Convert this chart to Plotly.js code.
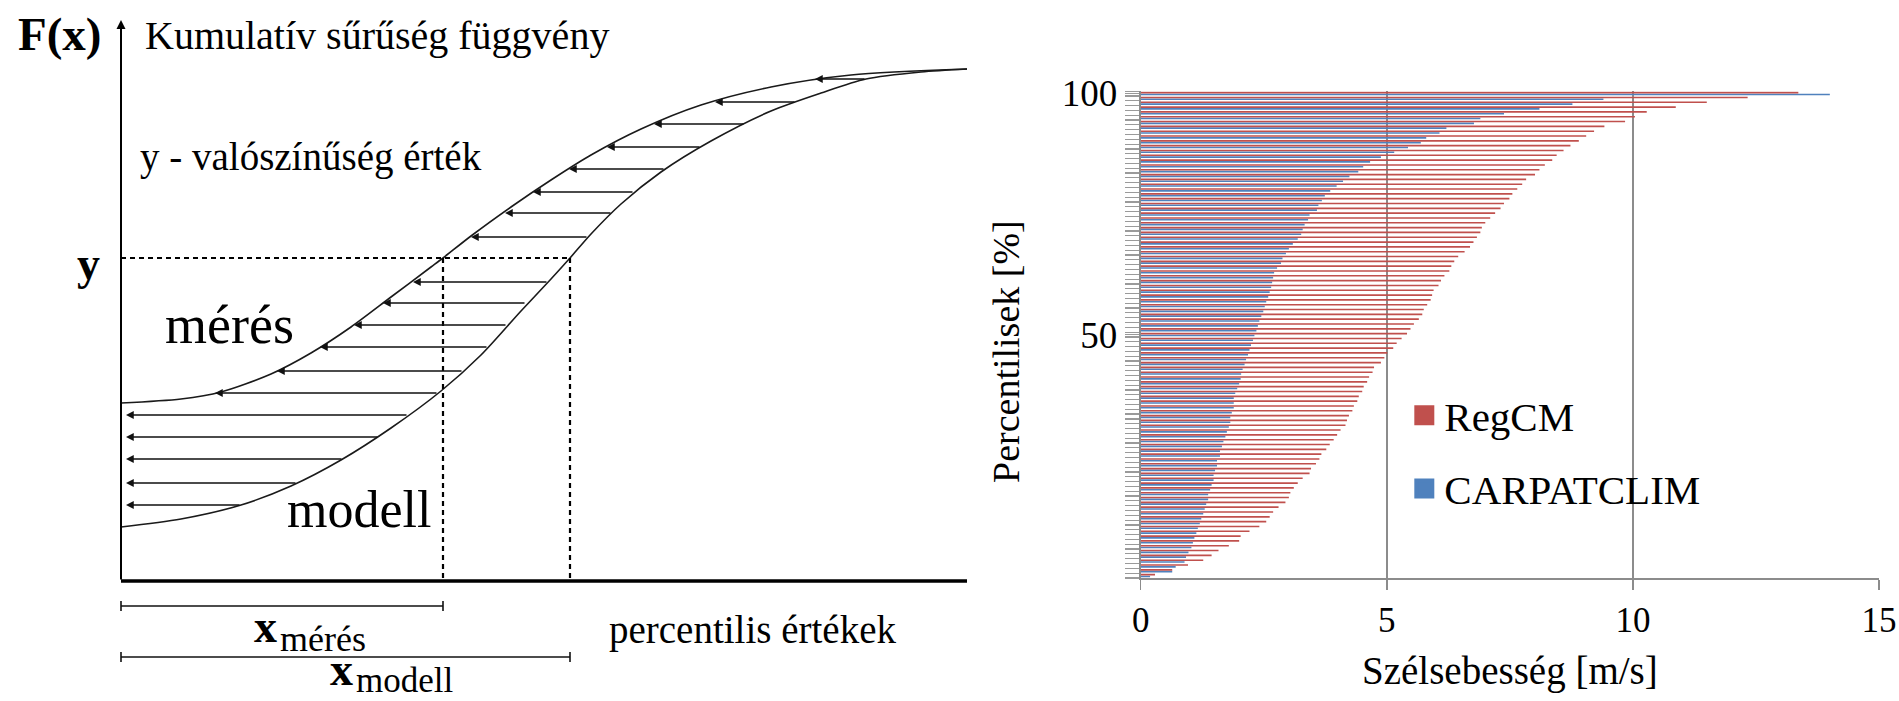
<!DOCTYPE html>
<html>
<head>
<meta charset="utf-8">
<script src="https://cdn.plot.ly/plotly-3.0.1.min.js"></script>
<style>
html,body{margin:0;padding:0;background:#ffffff;}
#chart{width:1899px;height:701px;}
</style>
</head>
<body>
<div id="chart"></div>
<script>
// ---------- Right panel: percentile bars ----------
const percentiles = [0,1,2,3,4,5,6,7,8,9,10,11,12,13,14,15,16,17,18,19,20,21,22,23,24,25,26,27,28,29,30,
  31,32,33,34,35,36,37,38,39,40,41,42,43,44,45,46,47,48,49,50,51,52,53,54,55,56,57,58,59,60,
  61,62,63,64,65,66,67,68,69,70,71,72,73,74,75,76,77,78,79,80,81,82,83,84,85,86,87,88,89,90,
  91,92,93,94,95,96,97,98,99,100];
const regcm = [0.29,0.64,0.96,1.27,1.44,1.58,1.79,2.00,2.03,2.21,2.41,2.55,2.62,2.69,2.80,2.94,3.01,3.04,3.11,3.19,
  3.29,3.43,3.46,3.56,3.63,3.67,3.77,3.84,3.92,3.99,4.06,4.16,4.19,4.23,4.30,4.33,4.40,4.43,4.50,4.53,
  4.60,4.64,4.71,4.74,4.88,4.95,5.01,5.13,5.20,5.30,5.41,5.48,5.55,5.65,5.72,5.75,5.82,5.89,5.92,5.95,
  6.05,6.10,6.17,6.27,6.31,6.37,6.45,6.58,6.69,6.76,6.83,6.90,6.93,7.00,7.10,7.20,7.31,7.38,7.49,7.55,
  7.65,7.75,7.83,8.01,8.10,8.21,8.36,8.45,8.59,8.73,8.90,9.05,9.21,9.42,9.84,10.04,10.28,10.87,11.50,12.33,13.36];
const carpatclim = [0.19,0.64,0.71,0.89,0.92,0.97,1.03,1.06,1.09,1.13,1.16,1.20,1.23,1.27,1.30,1.33,1.37,1.37,1.41,1.44,
  1.48,1.48,1.51,1.55,1.55,1.61,1.61,1.65,1.68,1.72,1.75,1.79,1.82,1.82,1.85,1.89,1.89,1.89,1.92,1.96,
  2.00,2.03,2.04,2.07,2.11,2.14,2.18,2.21,2.24,2.28,2.31,2.35,2.38,2.41,2.45,2.49,2.52,2.55,2.59,2.62,
  2.65,2.67,2.69,2.71,2.77,2.85,2.88,2.95,3.01,3.09,3.19,3.26,3.29,3.33,3.40,3.43,3.58,3.61,3.68,3.74,
  3.85,3.98,4.11,4.24,4.42,4.52,4.66,4.88,5.15,5.43,5.69,5.80,6.07,6.21,6.77,6.90,7.38,8.10,8.77,9.40,14.00];
const xTickVals = [0,5,10,15];
const yTickVals = [50,100];
const seriesNames = ['RegCM','CARPATCLIM'];

// ---------- Left panel: schematic CDF diagram (units: px from axis origin) ----------
const meresX  = [0,60,100,150,190,230,270,310,322,350,390,430,470,520,580,650,730,846];
const meresY  = [178,182,189,207,228,254,284,314,323,345,374,401,426,452,476,494,506,512];
const modellX = [0,60,120,170,220,270,320,360,400,430,449,470,500,540,590,650,700,745,800,846];
const modellY = [54,62,76,95,121,153,190,226,270,302,323,347,377,409,440,470,488,502,509,512];
const arrowY    = [502,479,457,434,412,389,368,344,299,278,256,234,210,188,166,144,122,98,76];
const arrowFrom = [745,675,624,580,544,513,491,467,427,405,386,367,342,317,287,258,222,176,120];
const arrowTo   = [694,594,533,486,448,412,384,350,292,262,233,199,156,94,5,5,5,5,5];
const yLevel = 323;            // chosen probability y
const xMeres = 322;            // percentile value of measurement
const xModell = 449;           // percentile value of model
const axisXEnd = 846;          // end of horizontal axis
const axisYEnd = 561;          // top of vertical axis (arrow tip)
const bracketMeresY = -25;
const bracketModellY = -76;
const bracketTick = 5;

const SERIF = 'Liberation Serif, Times New Roman, serif';
const RED = '#C0504D';
const BLUE = '#4F81BD';

const traces = [];
// curves
traces.push({type:'scatter', mode:'lines', x:meresX, y:meresY, xaxis:'x', yaxis:'y',
  line:{color:'#1a1a1a', width:1.6, shape:'spline', smoothing:0.8}, showlegend:false, hoverinfo:'skip'});
traces.push({type:'scatter', mode:'lines', x:modellX, y:modellY, xaxis:'x', yaxis:'y',
  line:{color:'#1a1a1a', width:1.6, shape:'spline', smoothing:0.8}, showlegend:false, hoverinfo:'skip'});
// horizontal axis
traces.push({type:'scatter', mode:'lines', x:[0, axisXEnd], y:[0, 0], xaxis:'x', yaxis:'y',
  line:{color:'#000', width:3.5}, showlegend:false, hoverinfo:'skip'});
// dashed guide lines
traces.push({type:'scatter', mode:'lines', x:[0, xModell], y:[yLevel, yLevel], xaxis:'x', yaxis:'y',
  line:{color:'#000', width:2.2, dash:'5px,4px'}, showlegend:false, hoverinfo:'skip'});
traces.push({type:'scatter', mode:'lines', x:[xMeres, xMeres], y:[yLevel, 0], xaxis:'x', yaxis:'y',
  line:{color:'#000', width:2.2, dash:'5px,4px'}, showlegend:false, hoverinfo:'skip'});
traces.push({type:'scatter', mode:'lines', x:[xModell, xModell], y:[yLevel, 0], xaxis:'x', yaxis:'y',
  line:{color:'#000', width:2.2, dash:'5px,4px'}, showlegend:false, hoverinfo:'skip'});
// brackets under the axis
[[xMeres, bracketMeresY],[xModell, bracketModellY]].forEach(function(b){
  traces.push({type:'scatter', mode:'lines',
    x:[0,0,null,0,b[0],null,b[0],b[0]],
    y:[b[1]-bracketTick,b[1]+bracketTick,null,b[1],b[1],null,b[1]-bracketTick,b[1]+bracketTick],
    xaxis:'x', yaxis:'y', line:{color:'#111', width:1.6}, showlegend:false, hoverinfo:'skip'});
});

// bars (blue first so red sits above in each group)
traces.push({type:'bar', orientation:'h', name:seriesNames[1], x:carpatclim, y:percentiles,
  xaxis:'x2', yaxis:'y2', marker:{color:BLUE}, showlegend:false, legendgroup:'carp'});
traces.push({type:'bar', orientation:'h', name:seriesNames[0], x:regcm, y:percentiles,
  xaxis:'x2', yaxis:'y2', marker:{color:RED}, showlegend:false, legendgroup:'reg'});
// legend entries
traces.push({type:'scatter', mode:'markers', name:seriesNames[0], x:[null], y:[null], xaxis:'x2', yaxis:'y2',
  marker:{symbol:'square', size:16, color:RED, line:{width:4, color:RED}}, legendgroup:'reg', hoverinfo:'skip'});
traces.push({type:'scatter', mode:'markers', name:seriesNames[1], x:[null], y:[null], xaxis:'x2', yaxis:'y2',
  marker:{symbol:'square', size:16, color:BLUE, line:{width:4, color:BLUE}}, legendgroup:'carp', hoverinfo:'skip'});

const annotations = [];
// vertical axis with arrow
annotations.push({x:0, y:axisYEnd, ax:0, ay:0, xref:'x', yref:'y', axref:'x', ayref:'y',
  text:'', showarrow:true, arrowhead:2, arrowsize:0.9, arrowwidth:2, arrowcolor:'#000', standoff:0, startstandoff:0});
// transformation arrows
for (let i = 0; i < arrowY.length; i++) {
  annotations.push({x:arrowTo[i], y:arrowY[i], ax:arrowFrom[i], ay:arrowY[i], xref:'x', yref:'y', axref:'x', ayref:'y',
    text:'', showarrow:true, arrowhead:2, arrowsize:1.15, arrowwidth:1.35, arrowcolor:'#111', standoff:0, startstandoff:0});
}
function label(text, x, y, size, opts) {
  const a = Object.assign({x:x, y:y, xref:'x', yref:'y', text:text, showarrow:false,
    xanchor:'left', yanchor:'middle', font:{family:SERIF, size:size, color:'#000'}}, opts || {});
  annotations.push(a);
}
label('F(x)', -105, 547, 47, {font:{family:SERIF, size:47, color:'#000', weight:'bold'}});
label('Kumulatív sűrűség függvény', 22, 546, 40);
label('y - valószínűség érték', 17, 424, 39);
label('y', -33, 318, 46, {xanchor:'center', font:{family:SERIF, size:46, color:'#000', weight:'bold'}});
label('mérés', 42, 256, 54);
label('modell', 164, 72, 52);
label('x', 131, -45, 46, {font:{family:SERIF, size:46, color:'#000', weight:'bold'}});
label('mérés', 157, -58, 36);
label('x', 207, -88, 46, {font:{family:SERIF, size:46, color:'#000', weight:'bold'}});
label('modell', 233, -99, 35);
label('percentilis értékek', 486, -49, 39);
// y-axis title of right panel
annotations.push({xref:'paper', yref:'paper', x:1006/1899, y:(701-351)/701, text:'Percentilisek [%]',
  textangle:-90, showarrow:false, xanchor:'center', yanchor:'middle', font:{family:SERIF, size:38, color:'#000'}});

const layout = {
  width:1899, height:701,
  margin:{l:0, r:0, t:0, b:0, pad:0},
  paper_bgcolor:'#ffffff', plot_bgcolor:'rgba(0,0,0,0)',
  font:{family:SERIF, color:'#000'},
  barmode:'group', bargap:0.25, bargroupgap:0.1,
  showlegend:true,
  legend:{x:0.7395, y:0.455, xanchor:'left', yanchor:'top', bgcolor:'rgba(0,0,0,0)',
    font:{family:SERIF, size:41, color:'#000'}, traceorder:'grouped', tracegroupgap:17, itemsizing:'trace'},
  xaxis:{domain:[0, 980/1899], range:[-121, 859], visible:false, fixedrange:true},
  yaxis:{domain:[0, 1], range:[-120, 581], visible:false, fixedrange:true},
  xaxis2:{domain:[0.6007, 0.9895], range:[0, 15], anchor:'y2', tickvals:xTickVals,
    showgrid:true, gridcolor:'#8c8c8c', gridwidth:1.5, zeroline:false,
    showline:true, linecolor:'#8c8c8c', linewidth:2,
    ticks:'outside', ticklen:10, tickcolor:'#8c8c8c', tickwidth:1.5,
    tickfont:{family:SERIF, size:35, color:'#000'},
    title:{text:'Szélsebesség [m/s]', font:{family:SERIF, size:39, color:'#000'}, standoff:18},
    fixedrange:true},
  yaxis2:{domain:[0.1755, 0.870], range:[-0.5, 100.5], anchor:'x2', tickvals:yTickVals,
    showgrid:false, zeroline:false, showline:true, linecolor:'#8c8c8c', linewidth:2,
    ticks:'outside', ticklen:14, tickcolor:'#999999', tickwidth:1.2,
    minor:{tick0:0.5, dtick:1, ticks:'outside', ticklen:14, tickcolor:'#9a9a9a', tickwidth:1.2, showgrid:false},
    tickfont:{family:SERIF, size:37, color:'#000'},
    fixedrange:true},
  annotations:annotations
};

Plotly.newPlot('chart', traces, layout, {displayModeBar:false, staticPlot:true});
</script>
</body>
</html>
